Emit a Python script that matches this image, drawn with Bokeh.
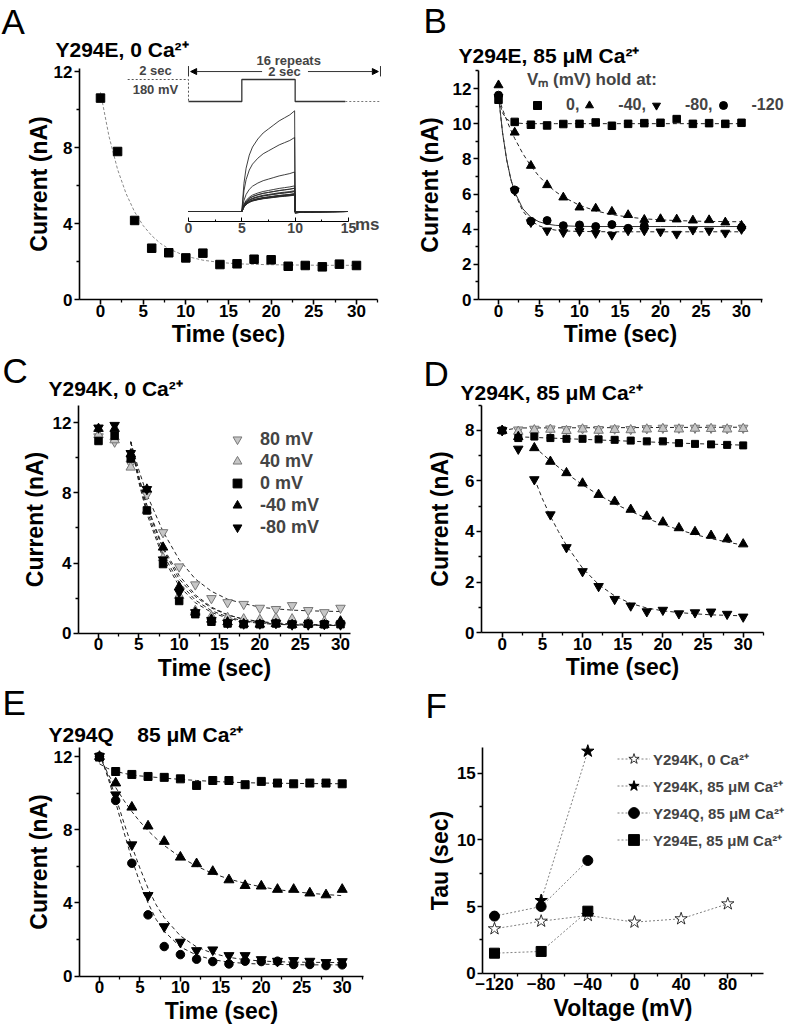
from bokeh.plotting import figure
from bokeh.models import (Range1d, LinearAxis, FixedTicker, Label, Legend, LegendItem,
                          Arrow, NormalHead)
from bokeh.layouts import column, row
from bokeh.embed import file_html
from bokeh.resources import INLINE

FONT = "Liberation Sans"

# ---------------------------------------------------------------- data
time_s = [0, 2, 4, 6, 8, 10, 12, 14, 16, 18, 20, 22, 24, 26, 28, 30]

# Panel A  (Y294E, 0 Ca2+)
a_current = [10.6, 7.79, 4.16, 2.70, 2.46, 2.19, 2.44, 1.84, 1.88, 2.12, 2.09, 1.75, 1.79, 1.72, 1.86, 1.79]
a_fit_t = [0, 1, 2, 3, 4, 5, 6, 7, 8, 10, 12, 14, 16, 18, 20, 22, 24, 26, 28, 30]
a_fit = [10.9, 8.58, 6.85, 5.57, 4.61, 3.89, 3.36, 2.96, 2.67, 2.28, 2.07, 1.95, 1.88, 1.85, 1.83, 1.82, 1.81, 1.80, 1.80, 1.80]
# inset: current traces (ms) - shape of each trace relative to its end value
inset_t_ms = [0.0, 5.0, 5.2, 5.4, 5.7, 6.0, 6.5, 7.0, 7.5, 8.0, 8.5, 9.0, 9.5, 9.95, 10.0, 10.4, 14.9]
inset_shape = [0, 0, 0.28, 0.43, 0.56, 0.64, 0.72, 0.78, 0.82, 0.86, 0.90, 0.93, 0.96, 1.0, -0.02, -0.01, 0]
inset_peaks = a_current
# inset: voltage protocol (ms, mV)
pre_t = [-5.7, 0, 0]
pre_mv = [180, 180, 0]
step_t = [0, 5, 5, 10, 10, 14.7]
step_mv = [0, 0, 180, 180, 0, 0]
post_t = [14.7, 18.0]
post_mv = [0, 0]

# Panel B  (Y294E, 85 uM Ca2+)
b_0 = [11.36, 10.10, 9.94, 9.90, 9.98, 9.99, 10.07, 9.88, 9.99, 10.03, 10.05, 10.26, 9.99, 10.03, 9.99, 10.05]
b_m40 = [12.19, 9.50, 7.61, 6.51, 5.81, 5.24, 5.18, 5.00, 4.81, 4.54, 4.58, 4.56, 4.50, 4.52, 4.39, 4.20]
b_m80 = [11.50, 6.19, 4.39, 3.92, 3.82, 3.88, 3.77, 3.67, 3.92, 3.92, 3.86, 3.73, 3.96, 3.92, 3.79, 4.00]
b_t120 = [0, 2, 4, 6, 8, 10, 12, 14, 16, 18, 30]
b_m120 = [11.62, 6.23, 4.45, 4.49, 4.20, 4.24, 4.15, 4.26, 4.05, 4.18, 4.10]
b_fit_t = [0, 0.5, 1, 1.5, 2, 3, 4, 5, 6, 7, 8, 10, 12, 14, 16, 18, 20, 22, 24, 26, 28, 30]
b_fit_0 = [11.40, 10.61, 10.27, 10.11, 10.05, 10.01, 10.0, 10.0, 10.0, 10.0, 10.0, 10.0, 10.0, 10.0, 10.0, 10.0, 10.0, 10.0, 10.0, 10.0, 10.0, 10.0]
b_fit_m40 = [11.5, 10.82, 10.21, 9.66, 9.16, 8.30, 7.59, 7.01, 6.54, 6.15, 5.83, 5.36, 5.04, 4.83, 4.69, 4.59, 4.53, 4.49, 4.46, 4.44, 4.43, 4.42]
b_fit_m80 = [11.55, 9.49, 7.97, 6.87, 6.06, 5.03, 4.48, 4.19, 4.03, 3.95, 3.90, 3.87, 3.86, 3.85, 3.85, 3.85, 3.85, 3.85, 3.85, 3.85, 3.85, 3.85]
b_fit_m120 = [11.6, 9.49, 7.97, 6.89, 6.12, 5.16, 4.67, 4.42, 4.29, 4.22, 4.19, 4.16, 4.15, 4.15, 4.15, 4.15, 4.15, 4.15, 4.15, 4.15, 4.15, 4.15]

# Panel C  (Y294K, 0 Ca2+)
c_80 = [11.2, 10.9, 9.65, 7.9, 5.75, 3.8, 2.78, 2.0, 1.77, 1.67, 1.45, 1.38, 1.6, 1.32, 1.2, 1.45]
c_40 = [11.3, 11.0, 9.45, 7.0, 4.3, 2.15, 1.3, 0.97, 0.9, 0.82, 0.78, 0.87, 0.82, 0.67, 0.68, 0.63]
c_0 = [10.95, 11.25, 9.95, 7.0, 3.95, 1.85, 1.1, 0.67, 0.57, 0.53, 0.53, 0.57, 0.52, 0.55, 0.52, 0.53]
c_m40 = [11.65, 11.65, 10.2, 8.2, 4.9, 2.65, 1.2, 0.8, 0.65, 0.55, 0.52, 0.55, 0.5, 0.52, 0.5, 0.7]
c_m80 = [11.7, 11.85, 10.25, 8.2, 4.2, 2.35, 1.2, 0.76, 0.6, 0.55, 0.55, 0.58, 0.5, 0.5, 0.52, 0.5]
c_fit_t = [4, 5, 6, 8, 10, 12, 14, 16, 18, 20, 22, 24, 26, 28, 30]
c_fit_80 = [10.9, 9.3, 7.9, 5.8, 4.2, 3.1, 2.4, 1.95, 1.7, 1.5, 1.4, 1.33, 1.29, 1.27, 1.25]
c_fit_40 = [10.9, 8.9, 7.2, 4.8, 3.1, 2.1, 1.45, 1.05, 0.82, 0.68, 0.6, 0.55, 0.52, 0.5, 0.49]
c_fit_0 = [10.9, 8.6, 6.8, 4.3, 2.7, 1.75, 1.2, 0.87, 0.68, 0.58, 0.52, 0.49, 0.47, 0.46, 0.46]
c_fit_m40 = [10.9, 8.9, 7.3, 4.9, 3.3, 2.2, 1.5, 1.07, 0.8, 0.65, 0.56, 0.51, 0.48, 0.47, 0.46]
c_fit_m80 = [10.9, 8.7, 7.0, 4.5, 2.9, 1.9, 1.3, 0.94, 0.72, 0.6, 0.53, 0.49, 0.47, 0.46, 0.45]

# Panel D  (Y294K, 85 uM Ca2+)
d_80 = [8.0, 8.03, 8.06, 8.07, 8.05, 8.08, 8.05, 8.07, 8.05, 8.08, 8.1, 8.1, 8.1, 8.1, 8.08, 8.1]
d_40 = [8.0, 7.96, 8.02, 8.04, 7.99, 8.05, 8.0, 8.03, 8.02, 8.05, 8.07, 8.05, 8.08, 8.07, 8.05, 8.07]
d_0 = [8.0, 7.7, 7.76, 7.7, 7.67, 7.67, 7.65, 7.63, 7.6, 7.57, 7.57, 7.5, 7.47, 7.45, 7.43, 7.41]
d_m40 = [8.0, 7.75, 7.31, 6.77, 6.32, 5.91, 5.46, 5.19, 4.87, 4.6, 4.37, 4.14, 3.99, 3.84, 3.7, 3.5]
d_m80 = [8.0, 7.27, 6.06, 4.67, 3.37, 2.42, 1.83, 1.32, 1.06, 0.83, 0.89, 0.75, 0.79, 0.82, 0.73, 0.62]
d_fit_top_t = [0, 2, 30]
d_fit_top = [8.0, 8.1, 8.13]
d_fit_0_t = [2, 6, 10, 14, 18, 22, 26, 30]
d_fit_0 = [7.75, 7.70, 7.65, 7.60, 7.55, 7.50, 7.46, 7.42]
d_fit_m40_t = [4, 6, 8, 10, 12, 14, 16, 18, 20, 22, 24, 26, 28, 30]
d_fit_m40 = [7.35, 6.8, 6.3, 5.85, 5.45, 5.1, 4.8, 4.52, 4.28, 4.07, 3.88, 3.72, 3.58, 3.46]
d_fit_m80_t = [4, 5, 6, 7, 8, 10, 12, 14, 16, 18, 20, 22, 24, 26, 28, 30]
d_fit_m80 = [6.1, 5.3, 4.6, 4.0, 3.45, 2.55, 1.9, 1.45, 1.15, 0.97, 0.86, 0.79, 0.74, 0.7, 0.68, 0.66]

# Panel E  (Y294Q, 85 uM Ca2+)
e_0 = [11.97, 11.18, 11.02, 10.91, 10.86, 10.78, 10.42, 10.69, 10.69, 10.46, 10.64, 10.55, 10.51, 10.55, 10.55, 10.51]
e_m40 = [12.0, 10.55, 9.23, 8.2, 7.36, 6.5, 6.14, 5.72, 5.26, 4.95, 4.92, 4.74, 4.74, 4.54, 4.44, 4.74]
e_m80 = [12.0, 9.91, 7.18, 4.41, 2.71, 1.86, 1.4, 1.44, 1.13, 1.13, 0.91, 0.82, 0.86, 0.82, 0.75, 0.8]
e_m120 = [12.0, 9.6, 6.17, 3.35, 1.62, 1.18, 0.93, 0.8, 0.67, 0.82, 0.8, 0.82, 0.64, 0.64, 0.58, 0.62]
e_fit_t = [0, 1, 2, 3, 4, 5, 6, 7, 8, 10, 12, 14, 16, 18, 20, 22, 24, 26, 28, 30]
e_fit_0 = [11.6, 11.35, 11.2, 11.08, 11.0, 10.94, 10.9, 10.86, 10.82, 10.75, 10.69, 10.64, 10.6, 10.57, 10.55, 10.54, 10.53, 10.52, 10.52, 10.51]
e_fit_m40 = [12.0, 11.1, 10.31, 9.61, 8.99, 8.44, 7.95, 7.52, 7.14, 6.5, 6.01, 5.61, 5.31, 5.07, 4.88, 4.73, 4.62, 4.53, 4.46, 4.4]
e_fit_m80 = [12.2, 11.0, 9.8, 8.4, 7.1, 5.9, 4.8, 3.9, 3.2, 2.2, 1.6, 1.25, 1.03, 0.9, 0.83, 0.79, 0.77, 0.76, 0.75, 0.75]
e_fit_m120 = [12.2, 10.9, 9.5, 7.9, 6.4, 5.1, 4.0, 3.1, 2.45, 1.6, 1.15, 0.9, 0.77, 0.7, 0.66, 0.64, 0.63, 0.62, 0.62, 0.62]

# Panel F  (tau vs voltage)
f_v_k0 = [-120, -80, -40, 0, 40, 80]
f_tau_k0 = [3.33, 3.9, 4.33, 3.83, 4.08, 5.2]
f_v_k85 = [-80, -40]
f_tau_k85 = [5.45, 16.65]
f_v_q85 = [-120, -80, -40]
f_tau_q85 = [4.28, 5.0, 8.45]
f_v_e85 = [-120, -80, -40]
f_tau_e85 = [1.5, 1.63, 4.65]

t_major = [0, 5, 10, 15, 20, 25, 30]
t_minor = [2.5, 7.5, 12.5, 17.5, 22.5, 27.5, 32.5]

GRAY_FILL = "#c6c6c6"
GRAY_LINE = "#777777"
FIT_DASH = "4 3"
SIZE = {}
TITLE_PX = 21
LETTER_PX = 35


# ---------------------------------------------------------------- helpers
def style_axis(ax, label_standoff):
    ax.axis_line_width = 1.6
    ax.axis_line_color = "black"
    ax.major_tick_line_width = 1.6
    ax.minor_tick_line_width = 1.3
    ax.major_tick_out = 5
    ax.major_tick_in = 0
    ax.minor_tick_out = 3
    ax.minor_tick_in = 0
    ax.major_label_text_font = FONT
    ax.major_label_text_font_size = "17px"
    ax.major_label_text_font_style = "bold"
    ax.major_label_text_color = "black"
    ax.axis_label_text_font = FONT
    ax.axis_label_text_font_size = "23px"
    ax.axis_label_text_font_style = "bold"
    ax.axis_label_text_color = "black"
    ax.axis_label_standoff = label_standoff


def make_panel(w, h, xr, yr, y_axis_at, x_bounds, y_top, xt, xm, yt, ym, xlabel, ylabel, ylab_standoff):
    # the frame fills the whole canvas; the axes sit at fixed data positions
    p = figure(width=w, height=h, x_range=Range1d(*xr), y_range=Range1d(*yr),
               output_backend="svg", toolbar_location=None,
               min_border=0, min_border_left=0, min_border_right=0,
               min_border_top=0, min_border_bottom=0)
    p.grid.visible = False
    p.outline_line_color = None
    p.background_fill_color = "white"
    p.border_fill_color = "white"
    xa, ya = p.xaxis[0], p.yaxis[0]
    xa.ticker = FixedTicker(ticks=xt, minor_ticks=xm)
    ya.ticker = FixedTicker(ticks=yt, minor_ticks=ym)
    xa.fixed_location = 0
    ya.fixed_location = y_axis_at
    xa.bounds = x_bounds
    ya.bounds = (0, y_top)
    xa.axis_label = xlabel
    ya.axis_label = ylabel
    style_axis(xa, 1)
    style_axis(ya, ylab_standoff)
    xa.major_label_standoff = 0
    ya.major_label_standoff = 2
    SIZE[p.id] = (w, h)
    return p


def text(p, px, py, s, size, style="bold", align="left", baseline="alphabetic"):
    # px, py: position in the figure's own pixel space (top-left origin)
    w, h = SIZE[p.id]
    p.add_layout(Label(x=px, y=h - py, x_units="screen", y_units="screen", text=s,
                       text_font=FONT, text_font_size=f"{size}px", text_font_style=style,
                       text_color="black", text_align=align, text_baseline=baseline))


def letter(p, px, py_top, s):
    text(p, px, py_top, s, LETTER_PX, style="normal", baseline="top")


def fit(p, xs, ys, color="#222222", dash=FIT_DASH, width=1.0, **kw):
    return p.line(xs, ys, line_color=color, line_dash=dash, line_width=width, **kw)


# ---------------------------------------------------------------- panel A
pA = make_panel(393, 350, (-11.72, 34.34), (-2.684, 15.737), -2.461, (-2.461, 32.5), 12.16,
                t_major, t_minor, [0, 4, 8, 12], [2, 6, 10], "Time (sec)", "Current (nA)", -1)
pA.extra_x_ranges = {"ms": Range1d(-17.625, 19.22)}
pA.extra_y_ranges = {"inset": Range1d(-14.63, 22.21), "mV": Range1d(-2037.3, 826.4)}

fit(pA, a_fit_t, a_fit, color="#8a8a8a", dash="3 2")
pA.scatter(time_s, a_current, marker="square", size=8.5, color="black")

trace_xs = [inset_t_ms for _ in inset_peaks]
trace_ys = [[pk * f for f in inset_shape] for pk in inset_peaks]
pA.multi_line(trace_xs, trace_ys, x_range_name="ms", y_range_name="inset",
              line_color="#2a2a2a", line_width=0.9)
pA.line(pre_t, pre_mv, x_range_name="ms", y_range_name="mV", line_color="#555555",
        line_dash="2 2", line_width=1)
pA.line(step_t, step_mv, x_range_name="ms", y_range_name="mV", line_color="#333333", line_width=1.3)
pA.line(post_t, post_mv, x_range_name="ms", y_range_name="mV", line_color="#777777",
        line_dash="2 2", line_width=1)

inset_ax = LinearAxis(x_range_name="ms", y_range_name="inset", fixed_location=-1.05,
                      bounds=(0, 15), ticker=FixedTicker(ticks=[0, 5, 10, 15], minor_ticks=[2.5, 7.5, 12.5]))
inset_ax.axis_line_width = 1.2
inset_ax.major_tick_in = 4
inset_ax.major_tick_out = 0
inset_ax.minor_tick_in = 2
inset_ax.minor_tick_out = 0
inset_ax.major_label_text_font = FONT
inset_ax.major_label_text_font_size = "14px"
inset_ax.major_label_text_font_style = "bold"
inset_ax.major_label_standoff = 2
pA.add_layout(inset_ax, "below")
pA.add_layout(Label(x=15.6, y=-2.35, x_range_name="ms", y_range_name="inset", text="ms",
                    text_font=FONT, text_font_size="17px", text_font_style="bold"))

for txt, xm_, ymv in (("2 sec", -3.1, 254), ("180 mV", -3.1, 98), ("16 repeats", 9.4, 335), ("2 sec", 9.0, 245)):
    pA.add_layout(Label(x=xm_, y=ymv, x_range_name="ms", y_range_name="mV", text=txt,
                        text_font=FONT, text_font_size="13px", text_font_style="bold",
                        text_align="center", text_baseline="middle"))
for xs_, xe_ in ((6.9, 0.2), (11.2, 17.8)):
    pA.add_layout(Arrow(x_start=xs_, y_start=245, x_end=xe_, y_end=245, x_range_name="ms",
                        y_range_name="mV", line_width=1, line_color="#333333",
                        end=NormalHead(size=6, fill_color="black", line_color="black")))
for xb in (0.0, 18.0):
    pA.add_layout(Arrow(x_start=xb, y_start=205, x_end=xb, y_end=290, x_range_name="ms",
                        y_range_name="mV", line_width=1, line_color="#333333", end=None))

letter(pA, 1, 1, "A")
text(pA, 55, 49, "Y294E, 0 Ca²⁺", TITLE_PX)

# ---------------------------------------------------------------- panel B
pB = make_panel(399, 350, (-12.963, 36.296), (-2.9005, 17.005), -2.469, (-2.469, 32.6), 13.02,
                t_major, t_minor, [0, 2, 4, 6, 8, 10, 12], [1, 3, 5, 7, 9, 11, 13],
                "Time (sec)", "Current (nA)", 7)
fit(pB, b_fit_t, b_fit_0)
fit(pB, b_fit_t, b_fit_m40)
fit(pB, b_fit_t, b_fit_m80)
fit(pB, b_fit_t, b_fit_m120, dash="solid", color="#333333")
rb0 = pB.scatter(time_s, b_0, marker="square", size=7.5, color="black")
rb40 = pB.scatter(time_s, b_m40, marker="triangle", size=9, color="black")
rb80 = pB.scatter(time_s, b_m80, marker="inverted_triangle", size=9, color="black")
rb120 = pB.scatter(b_t120, b_m120, marker="circle", size=8, color="black")
legB = Legend(items=[LegendItem(label="0,", renderers=[rb0]),
                     LegendItem(label="-40,", renderers=[rb40]),
                     LegendItem(label="-80,", renderers=[rb80]),
                     LegendItem(label="-120", renderers=[rb120])],
              orientation="horizontal", location=(134, 235), padding=0, margin=0, spacing=0,
              glyph_width=20, glyph_height=20, label_standoff=19, label_width=0,
              title="Vₘ (mV) hold at:", title_standoff=5,
              title_text_font=FONT, title_text_font_size="17px", title_text_font_style="bold",
              label_text_font=FONT, label_text_font_size="16px", label_text_font_style="bold",
              border_line_color=None, background_fill_alpha=0)
pB.add_layout(legB)
letter(pB, 30, 0, "B")
text(pB, 65, 55, "Y294E, 85 μM Ca²⁺", TITLE_PX)

# ---------------------------------------------------------------- panel C
pC = make_panel(393, 332, (-12.149, 36.57), (-2.787, 16.095), -2.479, (-2.479, 31.24), 12.97,
                t_major, t_minor[:-1], [0, 4, 8, 12], [2, 6, 10], "Time (sec)", "Current (nA)", 2)
for fy in (c_fit_80, c_fit_40, c_fit_0, c_fit_m40, c_fit_m80):
    fit(pC, c_fit_t, fy)
rc80 = pC.scatter(time_s, c_80, marker="inverted_triangle", size=9.5, fill_color=GRAY_FILL, line_color=GRAY_LINE)
rc40 = pC.scatter(time_s, c_40, marker="triangle", size=9.5, fill_color=GRAY_FILL, line_color=GRAY_LINE)
rc0 = pC.scatter(time_s, c_0, marker="square", size=7.5, color="black")
rcm40 = pC.scatter(time_s, c_m40, marker="triangle", size=9.5, color="black")
rcm80 = pC.scatter(time_s, c_m80, marker="inverted_triangle", size=9.5, color="black")
legC = Legend(items=[LegendItem(label="80 mV", renderers=[rc80]),
                     LegendItem(label="40 mV", renderers=[rc40]),
                     LegendItem(label="0 mV", renderers=[rc0]),
                     LegendItem(label="-40 mV", renderers=[rcm40]),
                     LegendItem(label="-80 mV", renderers=[rcm80])],
              location=(224, 144), padding=0, margin=0, spacing=0,
              glyph_width=26, glyph_height=22, label_height=22, label_standoff=10,
              label_text_font=FONT, label_text_font_size="18px", label_text_font_style="bold",
              border_line_color=None, background_fill_alpha=0)
pC.add_layout(legC)
letter(pC, 2, 0, "C")
text(pC, 48, 38, "Y294K, 0 Ca²⁺", TITLE_PX)

# ---------------------------------------------------------------- panel D
pD = make_panel(399, 332, (-13.531, 36.137), (-1.980, 11.168), -2.577, (-2.577, 32.53), 8.99,
                t_major, t_minor, [0, 2, 4, 6, 8], [1, 3, 5, 7, 9], "Time (sec)", "Current (nA)", 9)
fit(pD, d_fit_top_t, d_fit_top)
fit(pD, d_fit_0_t, d_fit_0)
fit(pD, d_fit_m40_t, d_fit_m40)
fit(pD, d_fit_m80_t, d_fit_m80)
pD.scatter(time_s, d_80, marker="inverted_triangle", size=9.5, fill_color=GRAY_FILL, line_color=GRAY_LINE)
pD.scatter(time_s, d_40, marker="triangle", size=9.5, fill_color=GRAY_FILL, line_color=GRAY_LINE)
pD.scatter(time_s, d_0, marker="square", size=7, color="black")
pD.scatter(time_s, d_m40, marker="triangle", size=9.5, color="black")
pD.scatter(time_s, d_m80, marker="inverted_triangle", size=9.5, color="black")
letter(pD, 30, 3, "D")
text(pD, 67, 42, "Y294K, 85 μM Ca²⁺", TITLE_PX)

# ---------------------------------------------------------------- panel E
pE = make_panel(393, 342, (-12.237, 36.341), (-2.638, 16.042), -2.472, (-2.472, 32.63), 12.49,
                t_major, t_minor, [0, 4, 8, 12], [2, 6, 10], "Time (sec)", "Current (nA)", -1)
fit(pE, e_fit_t, e_fit_0)
fit(pE, e_fit_t, e_fit_m40)
fit(pE, e_fit_t, e_fit_m80)
fit(pE, e_fit_t, e_fit_m120)
pE.scatter(time_s, e_0, marker="square", size=8, color="black")
pE.scatter(time_s, e_m40, marker="triangle", size=10, color="black")
pE.scatter(time_s, e_m80, marker="inverted_triangle", size=10, color="black")
pE.scatter(time_s, e_m120, marker="circle", size=8.5, color="black")
letter(pE, 2, 0, "E")
text(pE, 48, 52, "Y294Q\u00a0\u00a0\u00a0 85 μM Ca²⁺", TITLE_PX)

# ---------------------------------------------------------------- panel F
pF = make_panel(399, 342, (-206.58, 135.47), (-3.848, 21.80), -130.03, (-130.03, 110.5), 16.93,
                [-120, -80, -40, 0, 40, 80], [-100, -60, -20, 20, 60, 100],
                [0, 5, 10, 15], [2.5, 7.5, 12.5], "Voltage (mV)", "Tau (sec)", 1)
DOT = dict(line_color="#808080", line_dash="2 2", line_width=1)
lk0 = pF.line(f_v_k0, f_tau_k0, **DOT)
lk85 = pF.line(f_v_k85, f_tau_k85, **DOT)
lq85 = pF.line(f_v_q85, f_tau_q85, **DOT)
le85 = pF.line(f_v_e85, f_tau_e85, **DOT)
sk0 = pF.scatter(f_v_k0, f_tau_k0, marker="star", size=13, fill_color="white", line_color="black", line_width=0.8)
sk85 = pF.scatter(f_v_k85, f_tau_k85, marker="star", size=13, color="black")
sq85 = pF.scatter(f_v_q85, f_tau_q85, marker="circle", size=10, color="black")
se85 = pF.scatter(f_v_e85, f_tau_e85, marker="square", size=10, color="black")
legF = Legend(items=[LegendItem(label="Y294K, 0 Ca²⁺", renderers=[lk0, sk0]),
                     LegendItem(label="Y294K, 85 μM Ca²⁺", renderers=[lk85, sk85]),
                     LegendItem(label="Y294Q, 85 μM Ca²⁺", renderers=[lq85, sq85]),
                     LegendItem(label="Y294E, 85 μM Ca²⁺", renderers=[le85, se85])],
              location=(224, 171), padding=0, margin=0, spacing=-5,
              glyph_width=33, glyph_height=27, label_height=20, label_standoff=3,
              label_text_font=FONT, label_text_font_size="15px", label_text_font_style="bold",
              border_line_color=None, background_fill_alpha=0)
pF.add_layout(legF)
letter(pF, 32, 3, "F")

layout = column(row(pA, pB), row(pC, pD), row(pE, pF))
open("out.html", "w").write(file_html(layout, INLINE))
